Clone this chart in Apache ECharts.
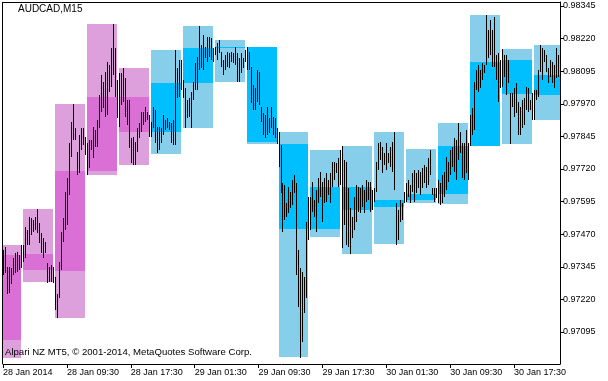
<!DOCTYPE html>
<html>
<head>
<meta charset="utf-8">
<script src="https://cdn.jsdelivr.net/npm/echarts@6/dist/echarts.min.js"></script>
<style>
html,body{margin:0;padding:0;background:#fff;}
#chart{width:608px;height:381px;}
</style>
</head>
<body>
<div id="chart"></div>
<script>
// ---- DATA ----
// M15 bars (index 0 = 28 Jan 2014 01:30, one bar per 15 minutes)
const barHigh = [
0.97411,0.97422,0.97345,0.97345,0.97342,0.97380,0.97399,0.97403,0.97391,0.97430,
0.97430,0.97499,0.97487,0.97537,0.97533,0.97525,0.97537,0.97568,0.97514,0.97476,
0.97456,0.97441,0.97361,0.97345,0.97353,0.97345,0.97307,0.97242,0.97365,0.97479,
0.97533,0.97633,0.97686,0.97820,0.97901,0.97970,0.97878,0.97786,0.97851,0.97878,
0.97878,0.97843,0.97820,0.97832,0.97832,0.97882,0.97870,0.97908,0.98004,0.98081,
0.98054,0.98092,0.98131,0.98119,0.98184,0.98276,0.98184,0.98062,0.98088,0.98088,
0.98108,0.98069,0.97985,0.97985,0.97839,0.97843,0.97824,0.97878,0.97897,0.97939,
0.97939,0.97958,0.97939,0.97927,0.97901,0.97958,0.97947,0.97882,0.97882,0.97878,
0.97927,0.97908,0.97916,0.97901,0.97897,0.97908,0.98176,0.98108,0.98138,0.98138,
0.98062,0.98031,0.97985,0.97993,0.98016,0.98054,0.98127,0.98150,0.98268,0.98196,
0.98234,0.98188,0.98226,0.98226,0.98223,0.98184,0.98188,0.98203,0.98215,0.98169,
0.98138,0.98157,0.98169,0.98165,0.98169,0.98165,0.98188,0.98165,0.98146,0.98165,
0.98146,0.98176,0.98188,0.98169,0.98111,0.98042,0.98031,0.98100,0.98092,0.97958,
0.97935,0.97927,0.97958,0.97916,0.97958,0.97920,0.97916,0.97878,0.97862,0.97813,
0.97667,0.97659,0.97590,0.97652,0.97633,0.97679,0.97698,0.97667,0.97411,0.97342,
0.97326,0.97307,0.97518,0.97614,0.97614,0.97671,0.97602,0.97640,0.97686,0.97709,
0.97671,0.97686,0.97705,0.97679,0.97705,0.97748,0.97748,0.97744,0.97763,0.97794,
0.97809,0.97755,0.97748,0.97648,0.97571,0.97537,0.97614,0.97659,0.97652,0.97648,
0.97659,0.97640,0.97679,0.97671,0.97671,0.97640,0.97648,0.97748,0.97820,0.97824,
0.97805,0.97782,0.97820,0.97782,0.97805,0.97824,0.97862,0.97590,0.97564,0.97602,
0.97590,0.97633,0.97667,0.97679,0.97659,0.97705,0.97717,0.97705,0.97717,0.97709,
0.97725,0.97736,0.97728,0.97763,0.97794,0.97648,0.97648,0.97648,0.97679,0.97667,
0.97698,0.97709,0.97767,0.97748,0.97794,0.97805,0.97839,0.97832,0.97897,0.97862,
0.97820,0.97820,0.97870,0.97820,0.97927,0.97954,0.98054,0.98100,0.98119,0.98100,
0.98127,0.98119,0.98311,0.98253,0.98291,0.98253,0.98303,0.98157,0.98165,0.98138,
0.98180,0.98157,0.98157,0.98138,0.98012,0.98012,0.98031,0.98050,0.97977,0.97958,
0.97985,0.97993,0.98035,0.98031,0.97985,0.98012,0.98023,0.98023,0.98100,0.98196,
0.98184,0.98176,0.98157,0.98108,0.98138,0.98131,0.98119,0.98184,0.98157
];
const barLow = [
0.97315,0.97322,0.97242,0.97246,0.97280,0.97315,0.97322,0.97326,0.97334,0.97342,
0.97365,0.97380,0.97430,0.97430,0.97468,0.97479,0.97487,0.97476,0.97437,0.97399,
0.97380,0.97399,0.97284,0.97288,0.97288,0.97284,0.97181,0.97150,0.97227,0.97334,
0.97441,0.97487,0.97506,0.97621,0.97767,0.97832,0.97832,0.97698,0.97705,0.97794,
0.97813,0.97774,0.97698,0.97725,0.97794,0.97763,0.97805,0.97805,0.97878,0.97939,
0.97954,0.97920,0.97928,0.98016,0.98035,0.98081,0.97997,0.97916,0.97882,0.97966,
0.97977,0.97920,0.97889,0.97801,0.97744,0.97736,0.97736,0.97786,0.97839,0.97862,
0.97889,0.97901,0.97908,0.97843,0.97843,0.97878,0.97820,0.97782,0.97794,0.97820,
0.97851,0.97870,0.97878,0.97870,0.97820,0.97813,0.97813,0.97993,0.97997,0.98023,
0.97993,0.97878,0.97916,0.97920,0.97878,0.97985,0.98023,0.98023,0.98100,0.98108,
0.98100,0.98146,0.98131,0.98150,0.98138,0.98131,0.98157,0.98138,0.98165,0.98111,
0.98081,0.98100,0.98111,0.98108,0.98131,0.98127,0.98119,0.98054,0.98054,0.98088,
0.98108,0.98131,0.98100,0.98100,0.97974,0.97947,0.97947,0.97977,0.97966,0.97901,
0.97851,0.97839,0.97851,0.97859,0.97878,0.97851,0.97839,0.97816,0.97728,0.97629,
0.97479,0.97525,0.97537,0.97552,0.97571,0.97583,0.97629,0.97315,0.97192,0.96997,
0.97058,0.97169,0.97227,0.97449,0.97487,0.97556,0.97537,0.97479,0.97590,0.97614,
0.97518,0.97590,0.97594,0.97621,0.97590,0.97652,0.97679,0.97705,0.97652,0.97659,
0.97418,0.97506,0.97430,0.97422,0.97395,0.97456,0.97487,0.97518,0.97556,0.97552,
0.97575,0.97552,0.97594,0.97602,0.97556,0.97564,0.97594,0.97633,0.97717,0.97755,
0.97705,0.97736,0.97717,0.97744,0.97728,0.97709,0.97640,0.97430,0.97449,0.97518,
0.97525,0.97590,0.97594,0.97614,0.97590,0.97633,0.97594,0.97629,0.97648,0.97621,
0.97648,0.97667,0.97648,0.97659,0.97698,0.97621,0.97594,0.97610,0.97590,0.97583,
0.97590,0.97614,0.97640,0.97671,0.97698,0.97728,0.97709,0.97679,0.97755,0.97782,
0.97686,0.97679,0.97705,0.97679,0.97809,0.97851,0.97870,0.98023,0.98016,0.98031,
0.98062,0.98088,0.98119,0.98146,0.98157,0.98111,0.98111,0.98062,0.97977,0.98031,
0.98035,0.98073,0.98004,0.98050,0.97816,0.97958,0.97920,0.97935,0.97851,0.97851,
0.97878,0.97889,0.97947,0.97939,0.97947,0.97908,0.97908,0.97985,0.97997,0.98092,
0.98062,0.98131,0.98092,0.98050,0.98073,0.98050,0.98031,0.98069,0.98073
];
// H4 candles drawn as boxes (start = bar index of their first M15 bar)
const boxStart = [-6,10,26,42,58,74,90,106,122,138,154,170,186,202,218,234,250,266];
const boxOpen  = [0.97066,0.97395,0.97330,0.97713,0.97997,0.97862,0.98050,0.98184,0.98188,0.97816,0.97491,0.97652,0.97575,0.97602,0.97625,0.97809,0.98138,0.98004];
const boxHigh  = [0.97430,0.97568,0.97970,0.98276,0.98108,0.98176,0.98268,0.98215,0.98188,0.97862,0.97794,0.97809,0.97862,0.97797,0.97897,0.98311,0.98180,0.98196];
const boxLow   = [0.96997,0.97288,0.97150,0.97698,0.97736,0.97778,0.97878,0.98054,0.97816,0.97001,0.97460,0.97395,0.97434,0.97590,0.97587,0.97809,0.97816,0.97908];
const boxClose = [0.97391,0.97334,0.97713,0.97997,0.97862,0.98050,0.98184,0.98188,0.97824,0.97491,0.97652,0.97564,0.97602,0.97625,0.97809,0.98131,0.98008,0.98081];
const boxGroup = [0,0,0,0,0,1,1,1,1,1,1,1,1,1,1,1,1,1];
// axis ticks
const timeTickIdx = [0,32,64,96,128,160,192,224,256];
const timeLabels = ['28 Jan 2014','28 Jan 09:30','28 Jan 17:30','29 Jan 01:30','29 Jan 09:30','29 Jan 17:30','30 Jan 01:30','30 Jan 09:30','30 Jan 17:30'];
const priceTicks = [0.97095,0.97220,0.97345,0.97470,0.97595,0.97720,0.97845,0.97970,0.98095,0.98220,0.98345];

// ---- STYLE ----
const rangeColors = ['#DDA0DD','#87CEEB'];
const bodyColors  = ['#DA70D6','#00BFFF'];
const FONT = 'Liberation Sans';

const chart = echarts.init(document.getElementById('chart'), null, {renderer:'canvas'});

const barData = barHigh.map((h, i) => [i, h, barLow[i]]);
const boxData = boxStart.map((s, k) => [s, boxOpen[k], boxHigh[k], boxLow[k], boxClose[k], boxGroup[k]]);

const option = {
  animation: false,
  backgroundColor: '#fff',
  grid: {left: 2, right: 48, top: 2, bottom: 17},
  xAxis: {
    type: 'value', min: 0, max: 279,
    axisLine: {show: true, onZero: false, lineStyle: {color: '#000', width: 1}},
    axisTick: {show: true, length: 4, customValues: timeTickIdx, lineStyle: {color: '#000'}},
    axisLabel: {
      customValues: timeTickIdx,
      formatter: v => { const j = timeTickIdx.indexOf(v); return j >= 0 ? timeLabels[j] : ''; },
      align: 'left', margin: 4, color: '#000', fontSize: 9, fontFamily: FONT
    },
    splitLine: {show: false}
  },
  yAxis: {
    type: 'value', position: 'right',
    min: 0.97095 - 32/26080, max: 0.98345 + 4/26080,
    axisLine: {show: true, onZero: false, lineStyle: {color: '#000', width: 1}},
    axisTick: {show: true, length: 4, customValues: priceTicks, lineStyle: {color: '#000'}},
    axisLabel: {
      customValues: priceTicks,
      formatter: v => v.toFixed(5),
      margin: 3, color: '#000', fontSize: 9, fontFamily: FONT
    },
    splitLine: {show: false}
  },
  graphic: [
    {type: 'line', shape: {x1: 2.5, y1: 2, x2: 2.5, y2: 364}, style: {stroke: '#000', lineWidth: 1}, z: 100},
    {type: 'line', shape: {x1: 2, y1: 2.5, x2: 560, y2: 2.5}, style: {stroke: '#000', lineWidth: 1}, z: 100},
    {type: 'text', left: 18, top: 4, style: {text: 'AUDCAD,M15', fill: '#000', font: '10px "Liberation Sans"'}, z: 100},
    {type: 'text', left: 5, top: 347, style: {text: 'Alpari NZ MT5, \u00A9 2001-2014, MetaQuotes Software Corp.', fill: '#000', font: '9.6px "Liberation Sans"'}, z: 100}
  ],
  series: [
    {
      type: 'custom', silent: true, z: 1,
      data: boxData,
      encode: {x: 0, y: [2, 3]},
      renderItem: (params, api) => {
        const cs = params.coordSys;
        const s = api.value(0), o = api.value(1), h = api.value(2), l = api.value(3), c = api.value(4), g = api.value(5);
        let x0 = Math.round(api.coord([s, h])[0]);
        let x1 = Math.round(api.coord([s + 15, h])[0]);
        x0 = Math.max(x0, cs.x); x1 = Math.min(x1, cs.x + cs.width);
        const yH = Math.round(api.coord([s, h])[1]);
        const yL = Math.round(api.coord([s, l])[1]);
        const yA = Math.round(api.coord([s, Math.max(o, c)])[1]);
        const yB = Math.round(api.coord([s, Math.min(o, c)])[1]);
        return {type: 'group', children: [
          {type: 'rect', shape: {x: x0, y: yH, width: x1 - x0, height: yL - yH}, style: {fill: rangeColors[g]}},
          {type: 'rect', shape: {x: x0, y: yA, width: x1 - x0, height: Math.max(1, yB - yA)}, style: {fill: bodyColors[g]}}
        ]};
      }
    },
    {
      type: 'custom', silent: true, z: 2,
      data: barData,
      encode: {x: 0, y: [1, 2]},
      renderItem: (params, api) => {
        const p1 = api.coord([api.value(0), api.value(1)]);
        const p2 = api.coord([api.value(0), api.value(2)]);
        const x = Math.round(p1[0]);
        const y1 = Math.round(p1[1]), y2 = Math.round(p2[1]);
        return {type: 'rect', shape: {x: x, y: y1, width: 1, height: Math.max(1, y2 - y1)}, style: {fill: '#000'}};
      }
    }
  ]
};
chart.setOption(option);
</script>
</body>
</html>
